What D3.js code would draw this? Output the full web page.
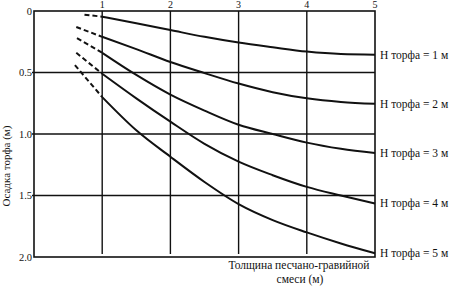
<!DOCTYPE html>
<html>
<head>
<meta charset="utf-8">
<script src="https://cdn.jsdelivr.net/npm/d3@7"></script>
<style>
  body { margin: 0; background: #fff; }
  text { font-family: "Liberation Serif", "DejaVu Serif", serif; fill: #111; }
</style>
</head>
<body>
<div id="chart"></div>
<script>
// thickness of sand-gravel mix (m) and settlement of peat (m)
const thickness = [1, 1.5, 2, 2.5, 3, 3.5, 4, 4.5, 5];
const settleH1 = [0.046, 0.10, 0.155, 0.21, 0.257, 0.295, 0.33, 0.35, 0.355];
const settleH2 = [0.21, 0.31, 0.415, 0.505, 0.59, 0.66, 0.71, 0.74, 0.755];
const settleH3 = [0.34, 0.52, 0.68, 0.81, 0.925, 1.00, 1.07, 1.12, 1.155];
const settleH4 = [0.51, 0.71, 0.90, 1.08, 1.225, 1.335, 1.43, 1.50, 1.565];
const settleH5 = [0.70, 0.97, 1.185, 1.39, 1.57, 1.70, 1.80, 1.89, 1.97];
// where the dashed (extrapolated) part begins
const dashStartX = [0.74, 0.62, 0.63, 0.62, 0.60];
const dashStartY = [0.03, 0.13, 0.22, 0.34, 0.44];
const curveLabels = ["Н торфа = 1 м", "Н торфа = 2 м", "Н торфа = 3 м", "Н торфа = 4 м", "Н торфа = 5 м"];
const xTicks = [1, 2, 3, 4, 5];
const yTicks = [0, 0.5, 1.0, 1.5, 2.0];

const W = 453, H = 288;
const MARGIN = {top: 11, right: 78, bottom: 31, left: 34};

const svg = d3.select("#chart").append("svg")
    .attr("width", W).attr("height", H);

const x = d3.scaleLinear().domain([0, 5]).range([MARGIN.left, W - MARGIN.right]);
const y = d3.scaleLinear().domain([0, 2]).range([MARGIN.top, H - MARGIN.bottom]);

// grid: vertical lines at x ticks, horizontal at inner y ticks
svg.append("g").selectAll("line").data(xTicks.slice(0, -1)).join("line")
    .attr("x1", d => x(d)).attr("x2", d => x(d))
    .attr("y1", y(0)).attr("y2", y(2) - 3)
    .attr("stroke", "#111").attr("stroke-width", 1.4);

svg.append("g").selectAll("line").data(yTicks.slice(1, -1)).join("line")
    .attr("x1", x(0) - 2).attr("x2", x(5))
    .attr("y1", d => y(d)).attr("y2", d => y(d))
    .attr("stroke", "#111").attr("stroke-width", 1.4);

// frame
svg.append("rect")
    .attr("x", x(0)).attr("y", y(0))
    .attr("width", x(5) - x(0)).attr("height", y(2) - y(0))
    .attr("fill", "none").attr("stroke", "#111").attr("stroke-width", 1.6);

// tick labels
svg.append("g").selectAll("text").data(xTicks).join("text")
    .attr("x", d => x(d)).attr("y", y(0) - 3)
    .attr("text-anchor", "middle").attr("font-size", 10)
    .text(d => d);

svg.append("g").selectAll("text").data(yTicks).join("text")
    .attr("x", x(0) - 2).attr("y", d => y(d) + 3.5)
    .attr("text-anchor", "end").attr("font-size", 10.5)
    .text(d => d === 0 ? "0" : d.toFixed(1));

// curves
const series = [settleH1, settleH2, settleH3, settleH4, settleH5];
const line = d3.line().x(d => x(d[0])).y(d => y(d[1])).curve(d3.curveMonotoneX);

series.forEach((vals, i) => {
    let pts = thickness.map((t, j) => [t, vals[j]]);
    svg.append("path")
        .attr("d", line(pts))
        .attr("fill", "none").attr("stroke", "#111").attr("stroke-width", 2);
    svg.append("path")
        .attr("d", d3.line().x(d => x(d[0])).y(d => y(d[1]))([[dashStartX[i], dashStartY[i]], [1, vals[0]]]))
        .attr("fill", "none").attr("stroke", "#111").attr("stroke-width", 2)
        .attr("stroke-dasharray", "5,3");
    svg.append("text")
        .attr("x", x(5) + 5).attr("y", y(vals[vals.length - 1]) + 4)
        .attr("font-size", 11.5)
        .text(curveLabels[i]);
});

// axis titles
svg.append("text")
    .attr("transform", `translate(10,166) rotate(-90)`)
    .attr("text-anchor", "middle").attr("font-size", 11)
    .text("Осадка торфа (м)");

svg.append("text")
    .attr("x", 299).attr("y", 269)
    .attr("text-anchor", "middle").attr("font-size", 11.5)
    .text("Толщина песчано-гравийной");
svg.append("text")
    .attr("x", 300).attr("y", 283)
    .attr("text-anchor", "middle").attr("font-size", 11.5)
    .text("смеси (м)");
</script>
</body>
</html>
